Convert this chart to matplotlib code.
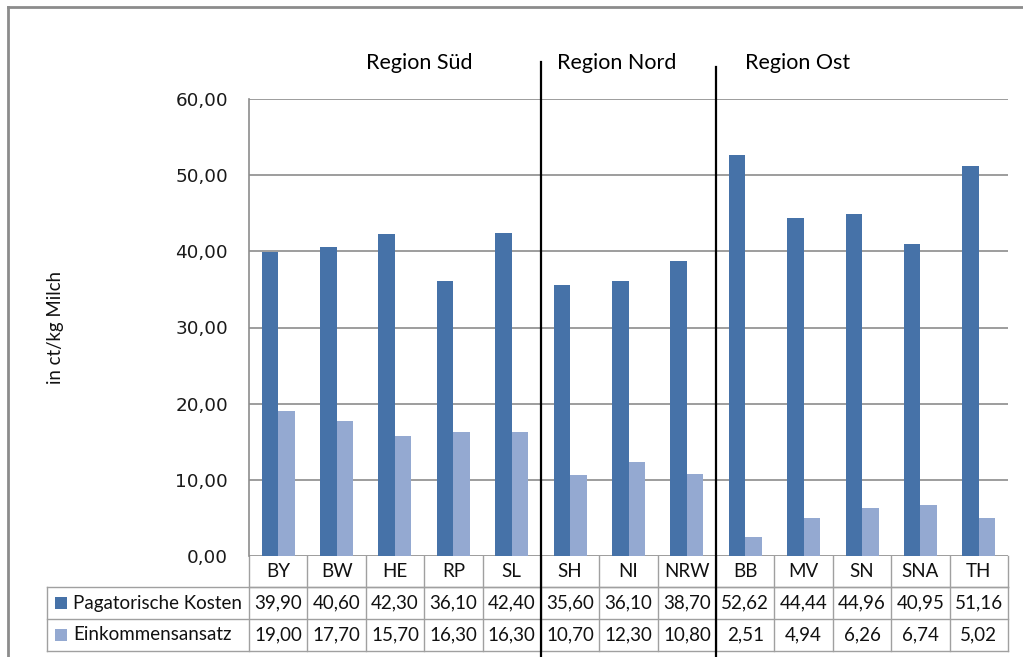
import numpy as np
import matplotlib
matplotlib.use('Agg')
import matplotlib.pyplot as plt
from matplotlib.lines import Line2D
from matplotlib.patches import Rectangle

laender = ['BY', 'BW', 'HE', 'RP', 'SL', 'SH', 'NI', 'NRW', 'BB', 'MV', 'SN', 'SNA', 'TH']
pagatorisch = [39.90, 40.60, 42.30, 36.10, 42.40, 35.60, 36.10, 38.70, 52.62, 44.44, 44.96, 40.95, 51.16]
einkommen = [19.00, 17.70, 15.70, 16.30, 16.30, 10.70, 12.30, 10.80, 2.51, 4.94, 6.26, 6.74, 5.02]
serien = ['Pagatorische Kosten', 'Einkommensansatz']
regionen = ['Region Süd', 'Region Nord', 'Region Ost']
region_grenzen = [4.5, 7.5]

c_dunkel = '#4672A8'
c_hell = '#94A9D1'
grau = '#8C8C8C'

W, H = 1023, 657
fig = plt.figure(figsize=(W / 100, H / 100), dpi=100)

# plot area in pixel coords of the reference
px_l, px_r, px_t, px_b = 249, 1008, 99, 556
ax = fig.add_axes([px_l / W, 1 - px_b / H, (px_r - px_l) / W, (px_b - px_t) / H])

x = np.arange(len(laender))
bw = 0.283
ax.bar(x - bw / 2, pagatorisch, bw, color=c_dunkel, zorder=3)
ax.bar(x + bw / 2, einkommen, bw, color=c_hell, zorder=3)

ax.set_xlim(-0.5, len(laender) - 0.5)
ax.set_ylim(0, 60)
ax.set_yticks(np.arange(0, 61, 10))
ax.yaxis.set_major_formatter(matplotlib.ticker.FuncFormatter(lambda v, p: ('%.2f' % v).replace('.', ',')))
ax.tick_params(axis='y', length=0, pad=15, labelsize=13.2, colors='#1a1a1a')
ax.set_xticks([])
ax.grid(axis='y', color=grau, lw=1.2, zorder=0)
for s in ['top', 'right', 'bottom']:
    ax.spines[s].set_visible(False)
ax.spines['left'].set_color(grau)
ax.spines['left'].set_linewidth(1.2)

ax.set_ylabel('in ct/kg Milch', fontsize=13.4, family='Lato', labelpad=0, color='#111111')
ax.yaxis.set_label_coords((64 - px_l) / (px_r - px_l), 0.5)

# data table under the chart
tr = ax.get_xaxis_transform()
ph = px_b - px_t
def yax(py):
    return (px_b - py) / ph

rows = [556, 587, 619, 651]
colw = (px_r - px_l) / len(laender)
x_tab_l = -0.5 - (px_l - 47) / colw
x_end = len(laender) - 0.5
lk = dict(transform=tr, clip_on=False, color='#A0A0A0', lw=1.0)
# horizontal lines
ax.add_line(Line2D([-0.5, x_end], [yax(rows[1])] * 2, **lk))
for r in rows[1:]:
    ax.add_line(Line2D([x_tab_l, x_end], [yax(r)] * 2, **lk))
# vertical lines
for i in range(len(laender) + 1):
    ax.add_line(Line2D([i - 0.5, i - 0.5], [yax(rows[0]), yax(rows[-1])], **lk))
ax.add_line(Line2D([x_tab_l, x_tab_l], [yax(rows[1]), yax(rows[-1])], **lk))

tk = dict(transform=tr, ha='center', va='center', fontsize=13.5, family='Lato', color='#111111', clip_on=False)
for i, lab in enumerate(laender):
    ax.text(i, yax((rows[0] + rows[1]) / 2), lab, **tk)
for r, (vals, name, col) in enumerate(zip([pagatorisch, einkommen], serien, [c_dunkel, c_hell])):
    yc = yax((rows[r + 1] + rows[r + 2]) / 2)
    for i, v in enumerate(vals):
        ax.text(i, yc, ('%.2f' % v).replace('.', ','), **tk)
    sq = 12 / colw
    ax.add_patch(Rectangle((x_tab_l + 8 / colw, yc - 6 / ph), sq, 12 / ph, transform=tr,
                           facecolor=col, edgecolor='none', clip_on=False))
    ax.text(x_tab_l + 26 / colw, yc, name, transform=tr, ha='left', va='center',
            fontsize=13.5, family='Lato', color='#111111', clip_on=False)

# region separators and labels
ax.add_line(Line2D([region_grenzen[0]] * 2, [yax(62), yax(657)], transform=tr, clip_on=False, color='black', lw=1.6))
ax.add_line(Line2D([region_grenzen[1]] * 2, [yax(67), yax(657)], transform=tr, clip_on=False, color='black', lw=1.6))
for name, xc in zip(regionen, [2.42, 5.8, 8.9]):
    ax.text(xc, yax(63), name, transform=tr, ha='center', va='center', fontsize=15.5, family='Lato', clip_on=False)

# outer chart frame
fig.add_artist(Line2D([8 / W, 8 / W], [0, 1 - 7 / H], color=grau, lw=2))
fig.add_artist(Line2D([8 / W, 1], [1 - 7 / H, 1 - 7 / H], color=grau, lw=2))

fig.savefig('out.png', dpi=100)
